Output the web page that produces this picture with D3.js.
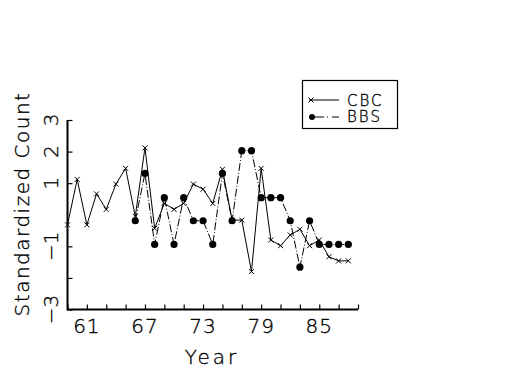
<!DOCTYPE html>
<html lang="en">
<head>
  <meta charset="UTF-8">
  <title>CBC vs BBS</title>
  <script src="https://d3js.org/d3.v7.min.js"></script>
  <style>
    body { margin: 0; background: white; }
    text { font-family: "DejaVu Sans", sans-serif; font-weight: 200; fill: black; stroke: black; stroke-width: 0.35px; }
  </style>
</head>
<body>
  <svg id="svg1" width="525" height="375"></svg>
  <script>
    // data
    const cbcYears = d3.range(59, 89);
    const cbcValues = [-0.32, 1.12, -0.32, 0.66, 0.17, 0.97, 1.47, -0.05, 2.12, -0.43,
                       0.36, 0.17, 0.36, 0.97, 0.81, 0.36, 1.44, -0.17, -0.17, -1.80,
                       1.47, -0.80, -0.98, -0.64, -0.46, -0.98, -0.80, -1.33, -1.46, -1.46];
    const bbsYears = d3.range(66, 89);
    const bbsValues = [-0.19, 1.31, -0.94, 0.54, -0.94, 0.54, -0.19, -0.19, -0.94, 1.31,
                       -0.19, 2.03, 2.03, 0.54, 0.54, 0.54, -0.19, -1.66, -0.19, -0.94,
                       -0.94, -0.94, -0.94];
    const xTicks = d3.range(59, 90, 2);
    const xLabels = [61, 67, 73, 79, 85];
    const yTicks = [3, 2, 1, -1, -2, -3];
    const yLabels = [3, 2, 1, -1, -3];

    let svg1 = d3.select("svg#svg1");
    let x0 = 67.5, x1 = 358, yTop = 120, yBot = 309.5;

    const xScale = d3.scaleLinear().domain([59, 89]).range([x0, x1]);
    const yScale = d3.scaleLinear().domain([-3, 3]).range([yBot, yTop]);

    let annotations = svg1.append("g").attr("id", "annotations");
    let chartArea = svg1.append("g").attr("id", "points");

    // axes (ticks pointing inward, custom labels drawn separately)
    let leftAxis = d3.axisRight(yScale).tickValues(yTicks).tickSize(5).tickFormat("");
    annotations.append("g")
               .attr("transform", `translate(${x0},0)`)
               .call(leftAxis)
               .call(g => g.select(".domain").remove());
    let bottomAxis = d3.axisTop(xScale).tickValues(xTicks).tickSize(5).tickFormat("");
    annotations.append("g")
               .attr("transform", `translate(0,${yBot})`)
               .call(bottomAxis)
               .call(g => g.select(".domain").remove());
    annotations.selectAll(".tick line").attr("stroke", "black").attr("stroke-width", 1.2);

    annotations.append("path")
               .attr("d", `M${x0},${yTop}V${yBot}H${x1}`)
               .attr("fill", "none")
               .attr("stroke", "black")
               .attr("stroke-width", 2);

    // tick labels
    xLabels.forEach(v => {
      annotations.append("text")
                 .attr("x", xScale(v))
                 .attr("y", 333)
                 .attr("text-anchor", "middle")
                 .style("font-size", "20px")
                 .style("letter-spacing", "1px")
                 .text(v);
    });
    yLabels.forEach(v => {
      annotations.append("text")
                 .attr("transform", `translate(58,${yScale(v)}) rotate(-90)`)
                 .attr("text-anchor", "middle")
                 .style("font-size", "20px")
                 .text(v < 0 ? "\u2212" + Math.abs(v) : v);
    });

    annotations.append("text")
               .attr("x", 212)
               .attr("y", 364)
               .attr("text-anchor", "middle")
               .style("font-size", "20px")
               .style("letter-spacing", "3px")
               .text("Year");
    annotations.append("text")
               .attr("transform", "translate(29,204) rotate(-90)")
               .attr("text-anchor", "middle")
               .style("font-size", "20px")
               .style("letter-spacing", "1.5px")
               .text("Standardized Count");

    // lines
    let cbcLine = d3.line().x((d, i) => xScale(cbcYears[i])).y(d => yScale(d));
    let bbsLine = d3.line().x((d, i) => xScale(bbsYears[i])).y(d => yScale(d));

    chartArea.append("path")
             .datum(bbsValues)
             .attr("fill", "none")
             .attr("stroke", "black")
             .attr("stroke-width", 1)
             .attr("stroke-dasharray", "8,2,1,2")
             .attr("d", bbsLine);
    chartArea.append("path")
             .datum(cbcValues)
             .attr("fill", "none")
             .attr("stroke", "black")
             .attr("stroke-width", 1)
             .attr("d", cbcLine);

    function cross(g, cx, cy) {
      g.append("path")
       .attr("d", `M${cx - 2.5},${cy - 2.5}L${cx + 2.5},${cy + 2.5}M${cx - 2.5},${cy + 2.5}L${cx + 2.5},${cy - 2.5}`)
       .attr("stroke", "black")
       .attr("stroke-width", 1);
    }

    bbsValues.forEach((d, i) => {
      chartArea.append("circle")
               .attr("r", 3.6)
               .attr("fill", "black")
               .attr("cx", xScale(bbsYears[i]))
               .attr("cy", yScale(d));
    });
    cbcValues.forEach((d, i) => cross(chartArea, xScale(cbcYears[i]), yScale(d)));

    // legend
    let legend = svg1.append("g").attr("id", "legend");
    legend.append("rect")
          .attr("x", 302.5).attr("y", 80.5)
          .attr("width", 95).attr("height", 48)
          .attr("fill", "none").attr("stroke", "black").attr("stroke-width", 1.2);
    legend.append("line")
          .attr("x1", 309).attr("x2", 339).attr("y1", 100).attr("y2", 100)
          .attr("stroke", "black");
    cross(legend, 311, 100);
    legend.append("line")
          .attr("x1", 312).attr("x2", 339).attr("y1", 117).attr("y2", 117)
          .attr("stroke", "black").attr("stroke-dasharray", "12,3,1,4");
    legend.append("circle").attr("cx", 312).attr("cy", 117).attr("r", 3).attr("fill", "black");
    legend.append("text").attr("x", 347).attr("y", 105.5)
          .style("font-size", "15px").style("letter-spacing", "2px").text("CBC");
    legend.append("text").attr("x", 347).attr("y", 122)
          .style("font-size", "15px").style("letter-spacing", "2px").text("BBS");
  </script>
</body>
</html>
